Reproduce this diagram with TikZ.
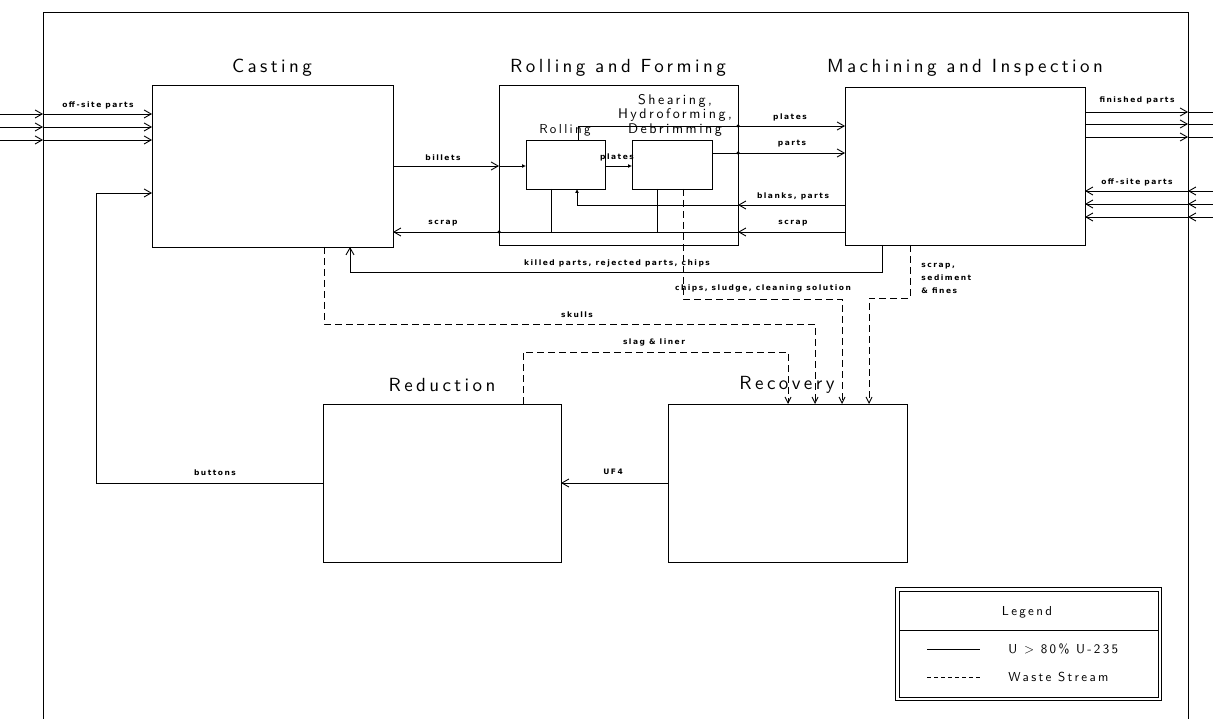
\documentclass[tikz,border=0pt]{standalone}
\usepackage{fontspec}
\usetikzlibrary{arrows.meta,calc}
\newfontfamily\plotfont{lmsans10-regular}[Extension=.otf,LetterSpace=18]
\newfontfamily\lblfont{DejaVu Sans}[LetterSpace=20]
\begin{document}
\begin{tikzpicture}[x=1pt,y=-1pt,line width=0.9pt,
  box/.style={draw,inner sep=0pt,outer sep=0pt},
  title/.style={font=\plotfont\fontsize{19}{19}\selectfont,inner sep=0pt},
  sub/.style={font=\plotfont\fontsize{13}{14}\selectfont,inner sep=0pt,align=center},
  lbl/.style={font=\lblfont\bfseries\fontsize{7.5}{13}\selectfont,inner sep=0pt},
  arr/.style={-{Straight Barb[length=7pt,width=8pt]}},
  varr/.style={-{Straight Barb[length=6pt,width=6pt]}},
  sarr/.style={-{Latex[length=4pt,width=4pt]}},
  waste/.style={dash pattern=on 7pt off 4pt},
  dot/.style={circle,fill,inner sep=0pt,minimum size=3.5pt}
]
\useasboundingbox (0,0) rectangle (1213,719);
% frame
\coordinate (fBL) at (43,719); \coordinate (fTL) at (43,12);
\coordinate (fTR) at (1188,12); \coordinate (fBR) at (1188,719);
\draw (fBL) -- (fTL) -- (fTR) -- (fBR);

% boxes
\node[box,minimum width=241pt,minimum height=162pt] (cast) at (272.5,166) {};
\node[box,minimum width=239pt,minimum height=160pt] (rf) at (618.5,165) {};
\node[box,minimum width=240pt,minimum height=158pt] (mach) at (965,166) {};
\node[box,minimum width=79pt,minimum height=49pt] (roll) at (565.5,164.5) {};
\node[box,minimum width=80pt,minimum height=49pt] (shear) at (672,164.5) {};
\node[box,minimum width=238pt,minimum height=158pt] (red) at (442,483) {};
\node[box,minimum width=239pt,minimum height=158pt] (rec) at (787.5,483) {};

% titles
\node[title] (tcast) at (272,68) {Casting};
\node[title] (trf) at (618,68) {Rolling and Forming};
\node[title] (tmach) at (965,68) {Machining and Inspection};
\node[title] (tred) at (442,385) {Reduction};
\node[title] (trec) at (787,385) {Recovery};
\node[sub] (troll) at (565,130) {Rolling};
\node[sub,font=\plotfont\fontsize{14}{14.5}\selectfont] (tshear) at (675,115) {Shearing,\\Hydroforming,\\Debrimming};

% left inputs
\foreach \y/\n in {114/a,127/b,140/c} {
  \coordinate (li\n) at (0,\y); \coordinate (lf\n) at (43,\y);
  \draw[arr] (li\n) -- (lf\n);
  \draw[arr] (lf\n) -- (lf\n -| cast.west);
}
\node[lbl] (loffl) at (98,105) {off-site parts};

% finished parts
\foreach \y/\n in {112/a,124/b,137/c} {
  \coordinate (fp\n) at (1188,\y); \coordinate (fe\n) at (1213,\y);
  \draw[arr] (fp\n -| mach.east) -- (fp\n);
  \draw (fp\n) -- (fe\n);
}
\node[lbl] (lfin) at (1137,100) {finished parts};

% off-site parts right
\foreach \y/\n in {191/a,204/b,217/c} {
  \coordinate (fo\n) at (1188,\y); \coordinate (fx\n) at (1213,\y);
  \draw[arr] (fx\n) -- (fo\n);
  \draw[arr] (fo\n) -- (fo\n -| mach.east);
}
\node[lbl] (loffr) at (1137,182) {off-site parts};

% billets
\draw[arr] (cast.east |- 0,166) -- (rf.west |- 0,166);
\draw[sarr] (rf.west |- 0,166) -- (roll.west |- 0,166);
\node[lbl] (lbil) at (443,158) {billets};

% plates (inner)
\draw[sarr] (roll.east |- 0,166) -- (shear.west |- 0,166);
\node[lbl] (lpl1) at (617,157) {plates};

% plates (top)
\draw[arr] (roll.north -| 578,0) -- (578,126) -- (mach.west |- 0,126);
\node[dot] (d1) at (rf.east |- 0,126) {};
\node[lbl] (lpl2) at (790,117) {plates};

% parts
\draw[arr] (shear.east |- 0,153) -- (mach.west |- 0,153);
\node[dot] (d2) at (rf.east |- 0,153) {};
\node[lbl] (lparts) at (792,144) {parts};

% blanks, parts
\draw[arr] (mach.west |- 0,205) -- (rf.east |- 0,205);
\draw[sarr] (rf.east |- 0,205) -- (577,205) -- (roll.south -| 577,0);
\node[lbl] (lblank) at (793,196) {blanks, parts};

% scrap
\draw[arr] (mach.west |- 0,232) -- (rf.east |- 0,232);
\node[lbl] (lscr2) at (793,223) {scrap};
\draw (rf.east |- 0,232) -- (rf.west |- 0,232);
\draw[arr] (rf.west |- 0,232) -- (cast.east |- 0,232);
\draw (roll.south -| 551,0) -- (551,232);
\draw (shear.south -| 657,0) -- (657,232);
\node[dot] (d3) at (rf.west |- 0,232) {};
\node[lbl] (lscr1) at (443,223) {scrap};

% killed parts
\draw[arr] (mach.south -| 882,0) -- (882,272) -- (350,272) -- (cast.south -| 350,0);
\node[lbl] (lkill) at (617,263) {killed parts, rejected parts, chips};

% waste streams
\draw[varr,waste] (shear.south -| 683,0) -- (683,299) -- (842,299) -- (rec.north -| 842,0);
\node[lbl] (lchip) at (763,288) {chips, sludge, cleaning solution};
\draw[varr,waste] (mach.south -| 910,0) -- (910,298) -- (869,298) -- (rec.north -| 869,0);
\node[lbl,anchor=north west,align=left] (lsed) at (921,263) {scrap,\\sediment\\\& fines};
\draw[varr,waste] (cast.south -| 324,0) -- (324,324) -- (815,324) -- (rec.north -| 815,0);
\node[lbl] (lskull) at (577,315) {skulls};
\draw[varr,waste] (red.north -| 523,0) -- (523,352) -- (788,352) -- (rec.north -| 788,0);
\node[lbl] (lslag) at (654,342) {slag \& liner};

% UF4
\draw[arr] (rec.west |- 0,483) -- (red.east |- 0,483);
\node[lbl] (luf) at (613,472) {UF4};

% buttons
\draw[arr] (red.west |- 0,483) -- (96,483) -- (96,193) -- (cast.west |- 0,193);
\node[lbl] (lbut) at (215,473) {buttons};

% legend
\node[box,line width=0.8pt,minimum width=266pt,minimum height=113pt] (leg) at (1028.5,644) {};
\node[box,line width=0.8pt,minimum width=259pt,minimum height=106pt] (legi) at (1028.5,644) {};
\draw[line width=0.8pt] (legi.west |- 0,630) -- (legi.east |- 0,630);
\node[sub] (lleg) at (1027,612) {Legend};
\coordinate (ls1) at (927,649); \coordinate (ls2) at (980,649);
\draw (ls1) -- (ls2);
\node[sub,anchor=west] (lu) at (1008,649) {U > 80\% U-235};
\coordinate (lw1) at (927,677); \coordinate (lw2) at (980,677);
\draw[dash pattern=on 4pt off 3pt] (lw1) -- (lw2);
\node[sub,anchor=west] (lw) at (1008,677) {Waste Stream};
\end{tikzpicture}
\end{document}
